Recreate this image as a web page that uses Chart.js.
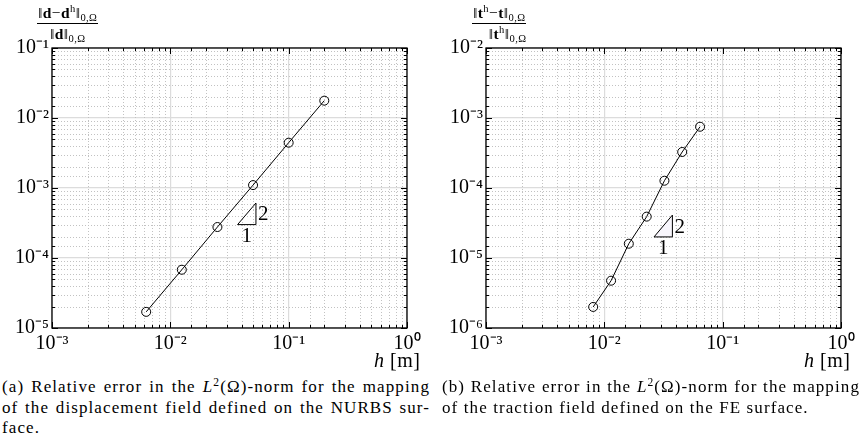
<!DOCTYPE html>
<html lang="en">
<head>
<meta charset="UTF-8">
<title>Relative L2 error</title>
<script src="https://cdn.jsdelivr.net/npm/chart.js@4/dist/chart.umd.min.js"></script>
<style>
  * { box-sizing: border-box; margin: 0; padding: 0; }
  body { width: 860px; height: 438px; background: #fff; position: relative; overflow: hidden;
         font-family: 'Liberation Serif', serif; color: #000; }
  .panel { position: absolute; top: 0; width: 430px; height: 372px; }
  .frac { position: absolute; top: 5px; display: flex; flex-direction: column; font-size: 15.5px; line-height: 1.0; letter-spacing: 0.4px; }
  .frac .num { border-bottom: 1px solid #000; padding: 0 1px 2px; }
  .frac .den { padding-top: 2px; }
  .frac sup, .frac sub, .cap sup { font-size: 0.68em; line-height: 0; }
  .frac sup { vertical-align: 0.55em; }
  .frac sub { vertical-align: -0.3em; }
  .xlab { position: absolute; top: 349px; font-size: 20px; letter-spacing: 0.5px; }
  .cap { position: absolute; top: 377px; font-size: 17px; line-height: 20.5px; letter-spacing: 1.1px; }
  .cap .j { text-align: justify; text-align-last: justify; }
  .cap sup { vertical-align: 0.5em; }
</style>
</head>
<body>
  <div class="panel" style="left:0"><canvas id="chartA"></canvas></div>
  <div class="panel" style="left:430px"><canvas id="chartB"></canvas></div>

  <div class="frac" style="left:37px; align-items:center">
    <div class="num">‖<b>d</b>−<b>d</b><sup>h</sup>‖<sub>0,Ω</sub></div>
    <div class="den">‖<b>d</b>‖<sub>0,Ω</sub></div>
  </div>
  <div class="frac" style="left:472px; align-items:flex-end">
    <div class="num">‖<b>t</b><sup>h</sup>−<b>t</b>‖<sub>0,Ω</sub></div>
    <div class="den">‖<b>t</b><sup>h</sup>‖<sub>0,Ω</sub></div>
  </div>

  <div class="xlab" style="left:374px"><i>h</i> [m]</div>
  <div class="xlab" style="left:804px"><i>h</i> [m]</div>

  <div class="cap" style="left:2px; width:428px">
    <div class="j">(a) Relative error in the <i>L</i><sup>2</sup>(Ω)-norm for the mapping</div>
    <div class="j">of the displacement field defined on the NURBS sur-</div>
    <div>face.</div>
  </div>
  <div class="cap" style="left:442px; width:418px">
    <div class="j">(b) Relative error in the <i>L</i><sup>2</sup>(Ω)-norm for the mapping</div>
    <div>of the traction field defined on the FE surface.</div>
  </div>

<script>
// (a) displacement field on the NURBS surface
const hA   = [0.2, 0.1, 0.05, 0.025, 0.0125, 0.00625];
const errA = [1.77e-2, 4.44e-3, 1.10e-3, 2.77e-4, 6.8e-5, 1.7e-5];
// (b) traction field on the FE surface
const hB   = [0.0644, 0.0455, 0.0322, 0.0228, 0.0161, 0.0114, 0.00805];
const errB = [7.5e-4, 3.27e-4, 1.27e-4, 3.9e-5, 1.6e-5, 4.74e-6, 2.0e-6];

// slope triangles (h at base corners, error at base / top)
const triAh = [0.037, 0.0529];
const triAe = [3.0e-4, 6.1e-4];
const triBh = [0.0263, 0.0376];
const triBe = [2.0e-5, 4.1e-5];
const triLabels = ['1', '2'];

const xRange  = [1e-3, 1];
const yRangeA = [1e-5, 1e-1];
const yRangeB = [1e-6, 1e-2];

const SUP = { '-': '⁻', '0': '⁰', '1': '¹', '2': '²', '3': '³', '4': '⁴', '5': '⁵', '6': '⁶' };
const isPow = v => Math.abs(Math.log10(v) - Math.round(Math.log10(v))) < 1e-6;
const powLabel = v => isPow(v)
  ? '10' + String(Math.round(Math.log10(v))).split('').map(c => SUP[c]).join('')
  : '';

const FONT = 'Liberation Serif';

const framePlugin = {
  id: 'frame',
  beforeDatasetsDraw(chart) {
    const { ctx, chartArea: a, scales: { x, y } } = chart;
    ctx.save();
    ctx.strokeStyle = '#c2c2c2';
    ctx.lineWidth = 1;
    ctx.setLineDash([1, 2]);
    ctx.beginPath();
    x.ticks.forEach(t => {
      if (isPow(t.value)) return;
      const px = Math.round(x.getPixelForValue(t.value)) + 0.5;
      ctx.moveTo(px, a.top); ctx.lineTo(px, a.bottom);
    });
    y.ticks.forEach(t => {
      if (isPow(t.value)) return;
      const py = Math.round(y.getPixelForValue(t.value)) + 0.5;
      ctx.moveTo(a.left, py); ctx.lineTo(a.right, py);
    });
    ctx.stroke();
    ctx.restore();
  },
  afterDatasetsDraw(chart, args, opts) {
    const { ctx, chartArea: a, scales: { x, y } } = chart;
    ctx.save();
    ctx.strokeStyle = '#000';
    ctx.lineWidth = 1;
    ctx.beginPath();
    x.ticks.forEach(t => {
      const px = Math.round(x.getPixelForValue(t.value)) + 0.5;
      const len = isPow(t.value) ? 6 : 3;
      ctx.moveTo(px, a.bottom); ctx.lineTo(px, a.bottom - len);
      ctx.moveTo(px, a.top); ctx.lineTo(px, a.top + len);
    });
    y.ticks.forEach(t => {
      const py = Math.round(y.getPixelForValue(t.value)) + 0.5;
      const len = isPow(t.value) ? 6 : 3;
      ctx.moveTo(a.left, py); ctx.lineTo(a.left + len, py);
      ctx.moveTo(a.right, py); ctx.lineTo(a.right - len, py);
    });
    ctx.stroke();
    ctx.lineWidth = 1.3;
    ctx.strokeRect(a.left, a.top, a.right - a.left, a.bottom - a.top);

    // slope triangle labels
    const x0 = x.getPixelForValue(opts.h[0]);
    const x1 = x.getPixelForValue(opts.h[1]);
    const y0 = y.getPixelForValue(opts.e[0]);
    const y1 = y.getPixelForValue(opts.e[1]);
    ctx.fillStyle = '#000';
    ctx.font = `21px "${FONT}"`;
    ctx.textAlign = 'center';
    ctx.textBaseline = 'middle';
    ctx.fillText(opts.labels[0], (x0 + x1) / 2, y0 + 12);
    ctx.textAlign = 'left';
    ctx.fillText(opts.labels[1], x1 + 2, (y0 + y1) / 2 + 1);
    ctx.restore();
  }
};

function makeChart(id, hs, errs, yRange, triH, triE, yWidth, padRight, triFill) {
  const pts = hs.map((h, i) => ({ x: h, y: errs[i] }));
  const tri = [
    { x: triH[0], y: triE[0] },
    { x: triH[1], y: triE[0] },
    { x: triH[1], y: triE[1] },
    { x: triH[0], y: triE[0] }
  ];
  const tickFont = { family: FONT, size: 20 };
  return new Chart(document.getElementById(id), {
    type: 'line',
    data: {
      datasets: [
        {
          data: tri,
          borderColor: '#000',
          borderWidth: 1,
          backgroundColor: triFill,
          fill: triFill ? 'shape' : false,
          pointRadius: 0,
          tension: 0
        },
        {
          data: pts,
          borderColor: '#000',
          borderWidth: 1,
          pointRadius: 4.5,
          pointBorderWidth: 1,
          pointBorderColor: '#000',
          pointBackgroundColor: 'rgba(0,0,0,0)',
          tension: 0
        }
      ]
    },
    options: {
      responsive: true,
      maintainAspectRatio: false,
      animation: false,
      events: [],
      layout: { padding: { top: 48, right: padRight, left: 0, bottom: 0 } },
      plugins: {
        legend: { display: false },
        tooltip: { enabled: false },
        frame: { h: triH, e: triE, labels: triLabels }
      },
      scales: {
        x: {
          type: 'logarithmic',
          min: xRange[0],
          max: xRange[1],
          afterFit: s => { s.height = 44; },
          border: { display: false },
          grid: {
            color: c => (c.tick && isPow(c.tick.value)) ? '#dcdcdc' : 'rgba(0,0,0,0)',
            lineWidth: 1.2,
            drawTicks: false
          },
          ticks: {
            autoSkip: false,
            maxRotation: 0,
            padding: 4,
            color: '#000',
            font: tickFont,
            callback: v => powLabel(v)
          }
        },
        y: {
          type: 'logarithmic',
          min: yRange[0],
          max: yRange[1],
          afterFit: s => { s.width = yWidth; },
          border: { display: false },
          grid: {
            color: c => (c.tick && isPow(c.tick.value)) ? '#dcdcdc' : 'rgba(0,0,0,0)',
            lineWidth: 1.2,
            drawTicks: false
          },
          ticks: {
            autoSkip: false,
            padding: 3,
            color: '#000',
            font: tickFont,
            callback: v => powLabel(v)
          }
        }
      }
    },
    plugins: [framePlugin]
  });
}

makeChart('chartA', hA, errA, yRangeA, triAh, triAe, 52, 23, null);
makeChart('chartB', hB, errB, yRangeB, triBh, triBe, 56, 19, 'rgba(248,246,252,1)');
</script>
</body>
</html>
